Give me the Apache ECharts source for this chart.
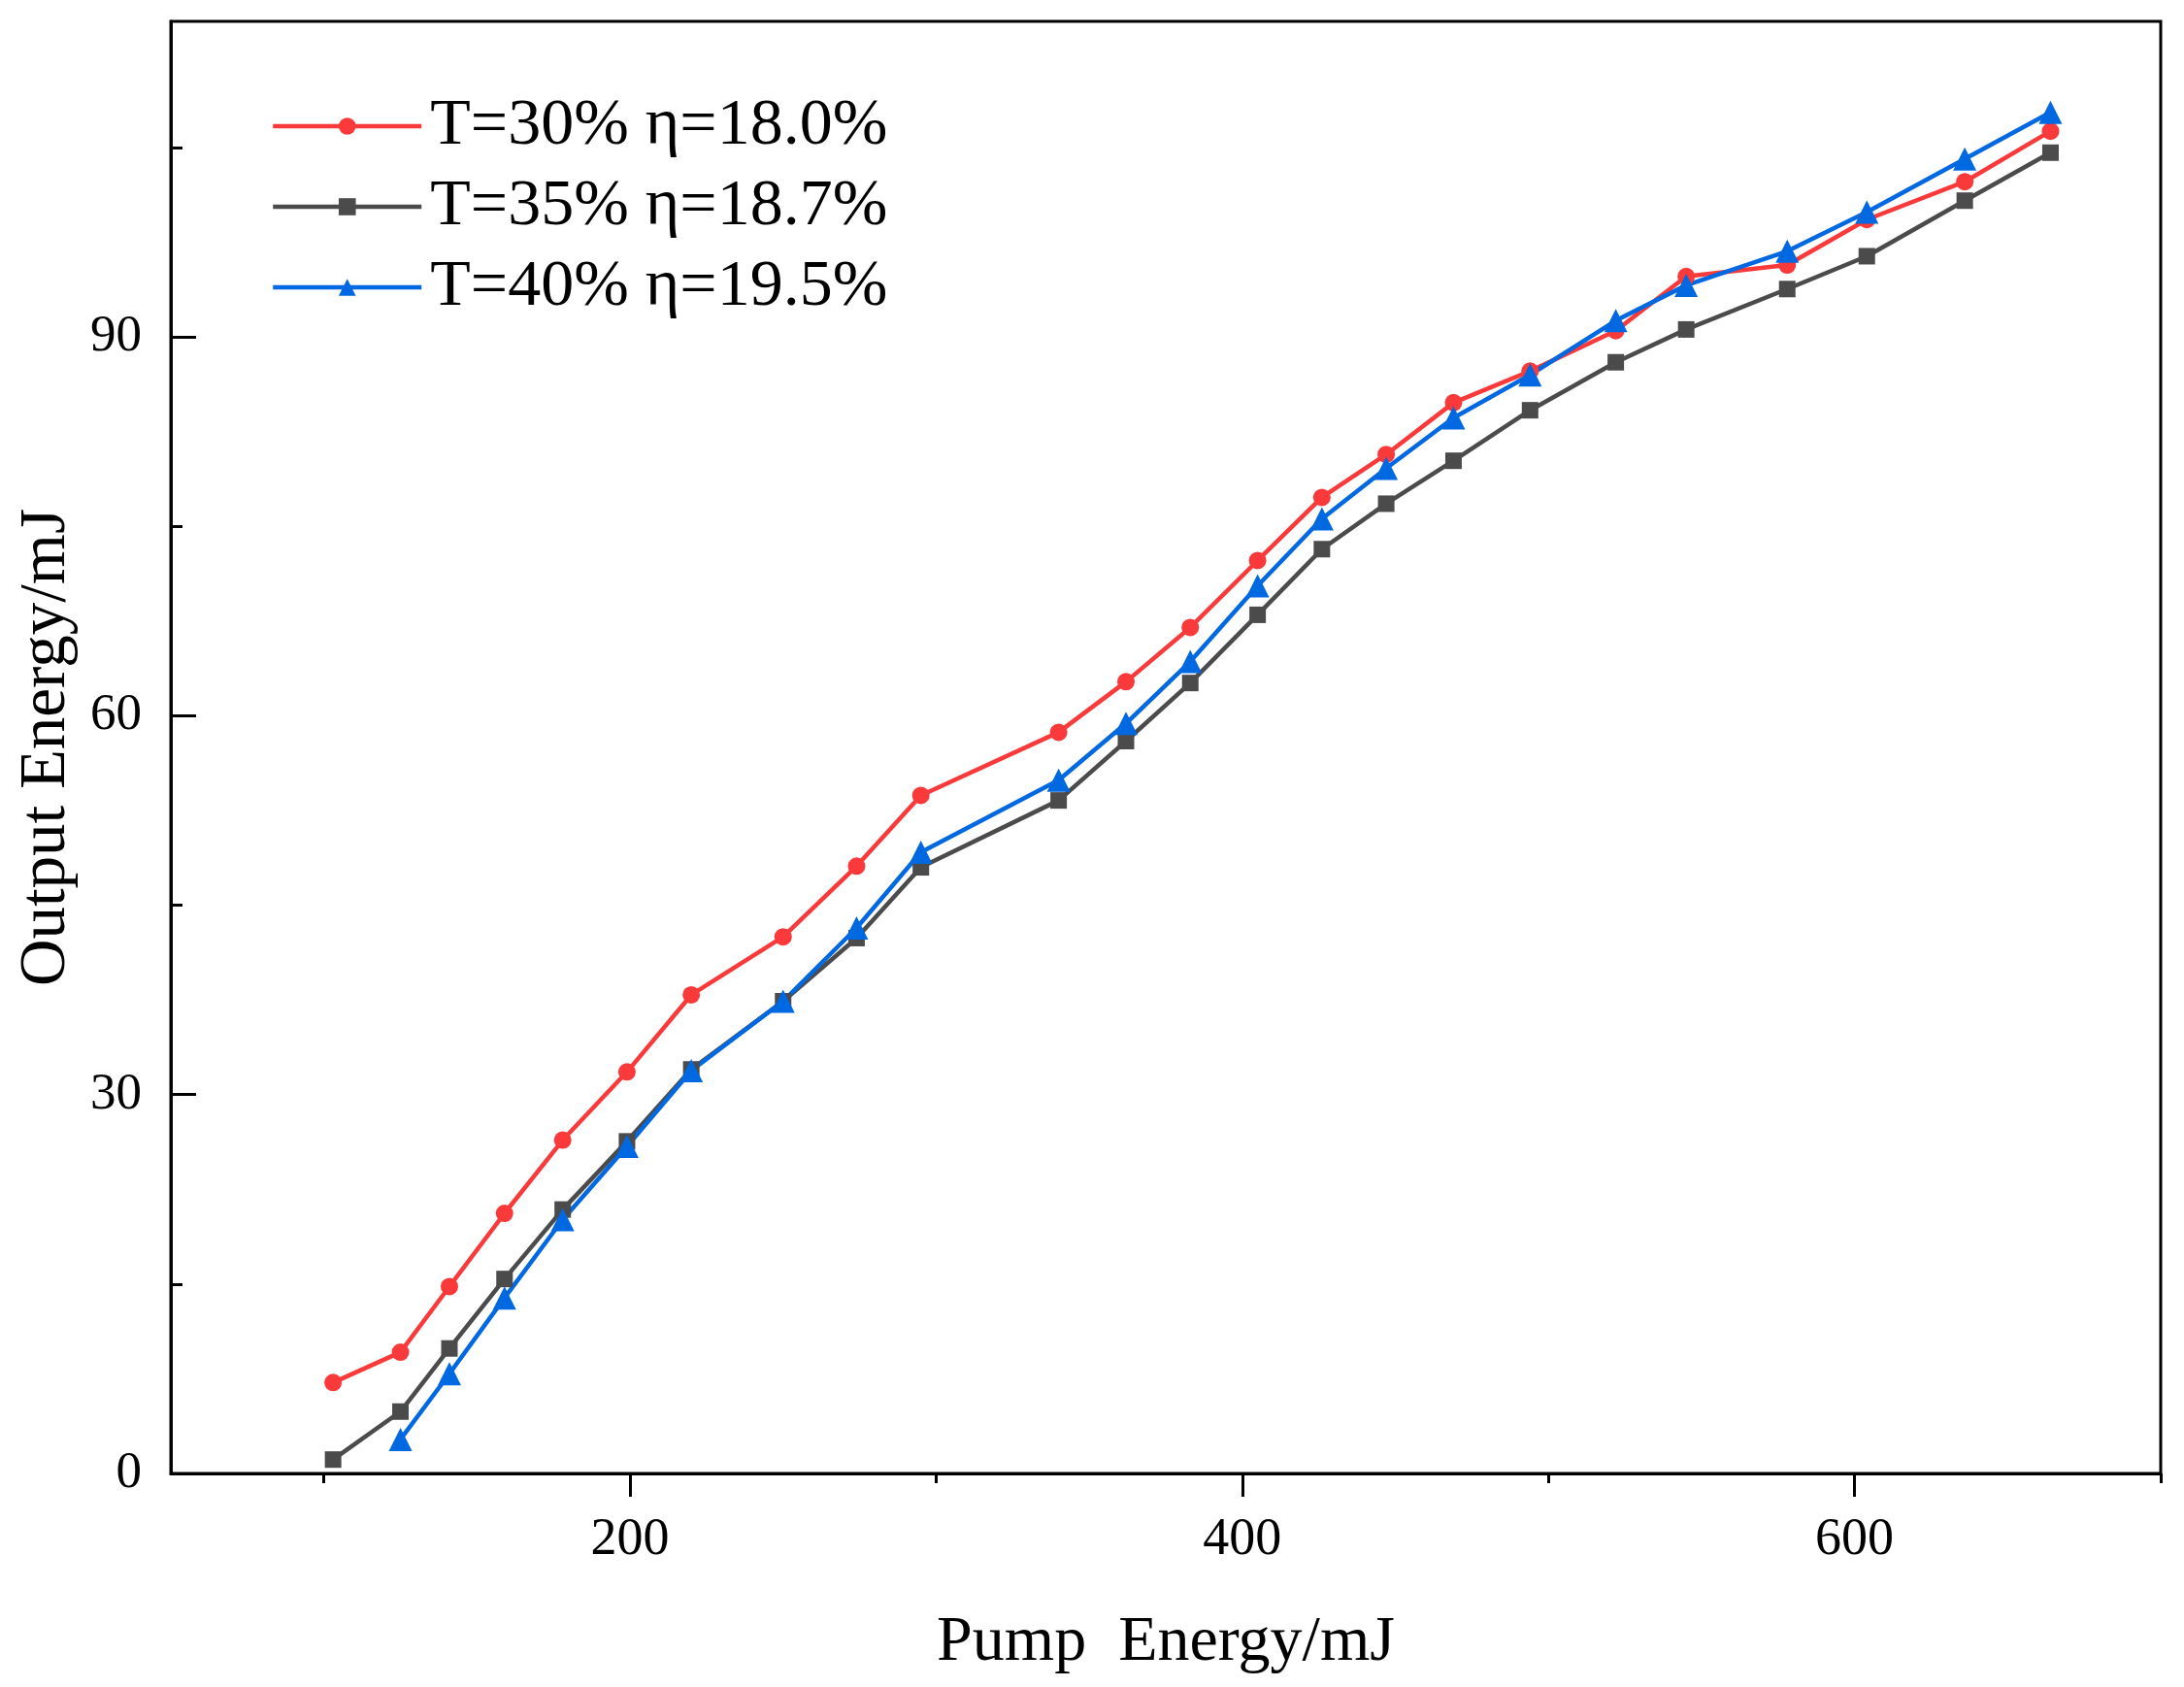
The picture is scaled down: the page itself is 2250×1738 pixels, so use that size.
<!DOCTYPE html>
<html>
<head>
<meta charset="utf-8">
<script src="https://cdn.jsdelivr.net/npm/echarts@6/dist/echarts.min.js"></script>
<style>html,body{margin:0;padding:0;background:#fff}#c{width:2250px;height:1738px}</style>
</head>
<body>
<div id="c"></div>
<script>
const pumpEnergy = [103,125,141,159,178,199,220,250,274,295,340,362,383,405,426,447,469,494,522,545,578,604,636,664];
const outT30 = [7.2,9.6,14.8,20.6,26.4,31.8,37.9,42.5,48.1,53.7,58.7,62.7,67.0,72.3,77.3,80.7,84.8,87.3,90.5,94.8,95.7,99.3,102.3,106.3];
const outT35 = [1.1,4.9,9.9,15.4,20.9,26.3,32.0,37.4,42.4,48.0,53.3,58.0,62.6,68.0,73.2,76.8,80.2,84.2,88.0,90.6,93.8,96.4,100.8,104.6];
const pumpEnergyT40 = [125,141,159,178,199,220,250,274,295,340,362,383,405,426,447,469,494,522,545,578,604,636,664];
const outT40 = [2.7,7.9,13.9,20.1,25.9,31.9,37.4,43.2,49.2,54.9,59.4,64.3,70.3,75.6,79.6,83.6,87.0,91.3,94.1,96.8,99.9,104.1,107.8];
const seriesNames = ['T=30% η=18.0%', 'T=35% η=18.7%', 'T=40% η=19.5%'];
const xMajorTicks = [200, 400, 600];
const xMinorTicks = [100, 300, 500, 700];
const yMajorTicks = [0, 30, 60, 90];
const yMinorTicks = [15, 45, 75, 105];

const FONT = 'Liberation Serif';
const pair = (xs, ys) => ys.map((v, i) => [xs[i], v]);

const chart = echarts.init(document.getElementById('c'));
chart.setOption({
  animation: false,
  backgroundColor: '#fff',
  grid: { left: 176, right: 24, top: 22, bottom: 220, show: true, borderColor: '#000', borderWidth: 3, containLabel: false },
  legend: {
    orient: 'vertical', left: 274, top: 91,
    itemWidth: 153, itemHeight: 22, itemGap: 15,
    data: seriesNames,
    lineStyle: { width: 4.5 },
    textStyle: { fontFamily: FONT, fontSize: 68, color: '#000', lineHeight: 68, padding: [0, 0, 0, 4] }
  },
  xAxis: [
    {
      type: 'value', min: 50, max: 700, position: 'bottom',
      axisLine: { show: true, lineStyle: { color: '#000', width: 3 } },
      axisTick: { show: true, customValues: xMajorTicks, length: 24, inside: false, lineStyle: { color: '#000', width: 3 } },
      axisLabel: { show: true, customValues: xMajorTicks, margin: 42, fontFamily: FONT, fontSize: 54, color: '#000' },
      splitLine: { show: false },
      name: 'Pump  Energy/mJ', nameLocation: 'middle', nameGap: 142,
      nameTextStyle: { fontFamily: FONT, fontSize: 66, color: '#000' }
    },
    {
      type: 'value', min: 50, max: 700, position: 'bottom',
      axisLine: { show: false },
      axisTick: { show: true, customValues: xMinorTicks, length: 10, inside: false, lineStyle: { color: '#000', width: 3 } },
      axisLabel: { show: false },
      splitLine: { show: false }
    }
  ],
  yAxis: [
    {
      type: 'value', min: 0, max: 115, position: 'left',
      axisLine: { show: true, lineStyle: { color: '#000', width: 3 } },
      axisTick: { show: true, customValues: yMajorTicks, length: 26, inside: true, lineStyle: { color: '#000', width: 3 } },
      axisLabel: { show: true, customValues: yMajorTicks, margin: 30, fontFamily: FONT, fontSize: 53, color: '#000' },
      splitLine: { show: false },
      name: 'Output Energy/mJ', nameLocation: 'middle', nameGap: 93, nameRotate: 90,
      nameTextStyle: { fontFamily: FONT, fontSize: 67, color: '#000' }
    },
    {
      type: 'value', min: 0, max: 115, position: 'left',
      axisLine: { show: false },
      axisTick: { show: true, customValues: yMinorTicks, length: 12, inside: true, lineStyle: { color: '#000', width: 3 } },
      axisLabel: { show: false },
      splitLine: { show: false }
    }
  ],
  series: [
    {
      name: seriesNames[0], type: 'line', data: pair(pumpEnergy, outT30),
      symbol: 'circle', symbolSize: 18,
      lineStyle: { color: '#FA3A3A', width: 4.5 }, itemStyle: { color: '#FA3A3A' }
    },
    {
      name: seriesNames[1], type: 'line', data: pair(pumpEnergy, outT35),
      symbol: 'rect', symbolSize: 17,
      lineStyle: { color: '#4B4B4B', width: 4.5 }, itemStyle: { color: '#4B4B4B' }
    },
    {
      name: seriesNames[2], type: 'line', data: pair(pumpEnergyT40, outT40),
      symbol: 'triangle', symbolSize: 24,
      lineStyle: { color: '#0068E0', width: 4.5 }, itemStyle: { color: '#0068E0' }
    }
  ]
});
</script>
</body>
</html>
